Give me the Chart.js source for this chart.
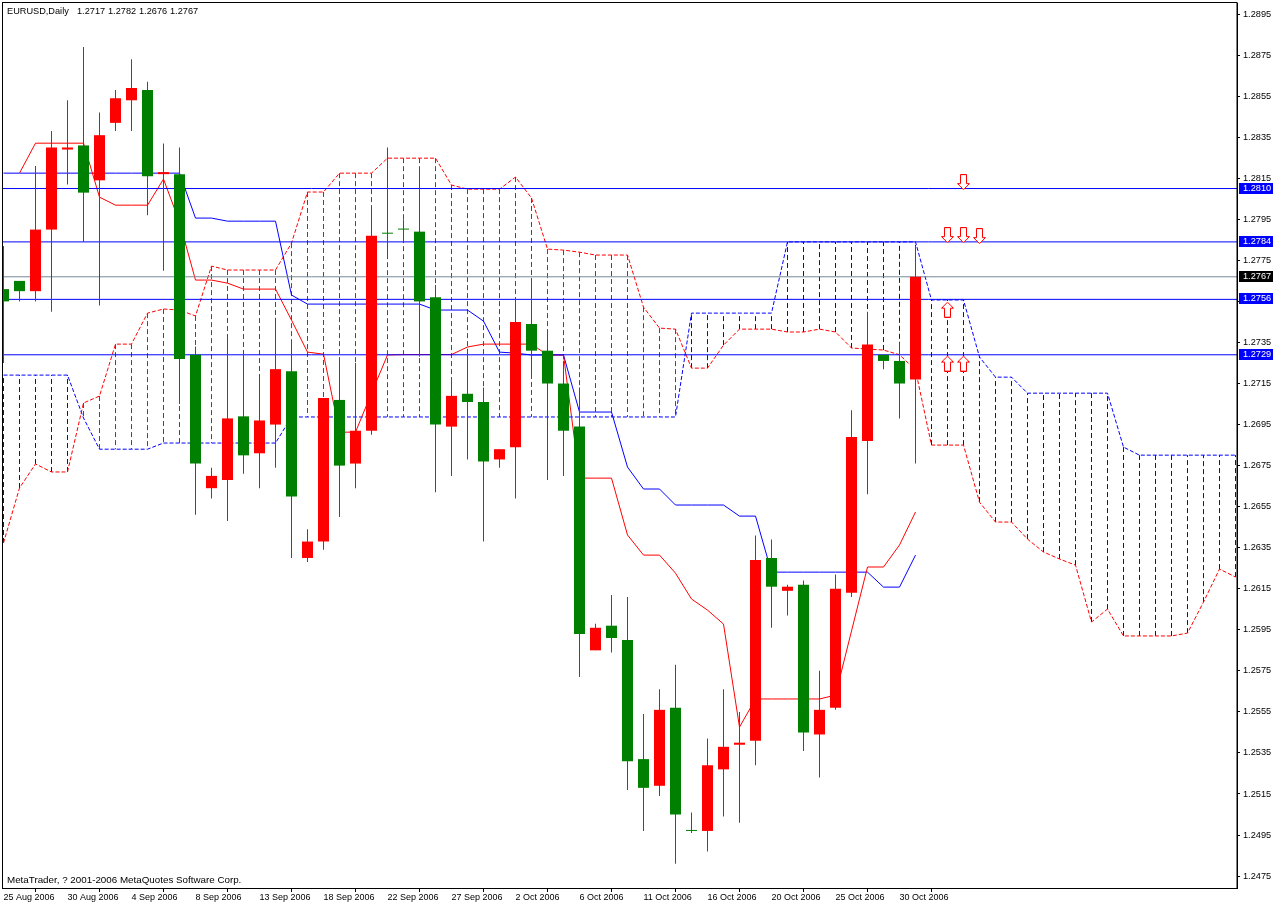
<!DOCTYPE html>
<html>
<head>
<meta charset="utf-8">
<title>EURUSD,Daily</title>
<script src="https://cdn.jsdelivr.net/npm/chart.js@4"></script>
<style>
  html, body { margin: 0; padding: 0; background: #fff; }
  canvas { display: block; }
</style>
</head>
<body>
<canvas id="chart" width="1274" height="905"></canvas>
<script>
// daily candles, one entry per bar
const opens = [1.2761,1.2765,1.2760,1.2790,1.2829,1.2831,1.2814,1.2842,1.2853,1.2858,1.2817,1.2817,1.2729,1.2664,1.2668,1.2699,1.2681,1.2695,1.2721,1.2630,1.2638,1.2707,1.2676,1.2692,1.2788,1.2790,1.2789,1.2757,1.2694,1.2710,1.2706,1.2678,1.2684,1.2744,1.2731,1.2715,1.2694,1.2585,1.2597,1.2590,1.2532,1.2519,1.2557,1.2497,1.2497,1.2527,1.2539,1.2541,1.2630,1.2614,1.2617,1.2544,1.2557,1.2613,1.2687,1.2729,1.2726,1.2717];
const highs = [1.2782,1.2765,1.2821,1.2838,1.2853,1.2879,1.2847,1.2858,1.2873,1.2862,1.2832,1.2830,1.2733,1.2674,1.2739,1.2731,1.2718,1.2747,1.2736,1.2644,1.2708,1.2727,1.2725,1.2800,1.2830,1.2795,1.2819,1.2763,1.2716,1.2732,1.2713,1.2683,1.2757,1.2765,1.2740,1.2726,1.2713,1.2598,1.2612,1.2611,1.2554,1.2566,1.2578,1.2506,1.2542,1.2566,1.2555,1.2641,1.2639,1.2617,1.2619,1.2575,1.2622,1.2702,1.2750,1.2729,1.2735,1.2782];
const lows = [1.2725,1.2755,1.2755,1.2750,1.2812,1.2784,1.2753,1.2838,1.2838,1.2797,1.2770,1.2705,1.2651,1.2659,1.2648,1.2671,1.2664,1.2674,1.2630,1.2628,1.2634,1.2650,1.2664,1.2690,1.2777,1.2784,1.2728,1.2662,1.2670,1.2678,1.2638,1.2674,1.2659,1.2719,1.2668,1.2670,1.2572,1.2585,1.2584,1.2517,1.2497,1.2514,1.2481,1.2496,1.2487,1.2504,1.2501,1.2529,1.2596,1.2602,1.2536,1.2523,1.2556,1.2611,1.2661,1.2722,1.2698,1.2676];
const closes = [1.2755,1.2760,1.2790,1.2830,1.2830,1.2808,1.2836,1.2854,1.2859,1.2816,1.2818,1.2727,1.2676,1.2670,1.2698,1.2680,1.2697,1.2722,1.2660,1.2638,1.2708,1.2675,1.2692,1.2787,1.2788,1.2790,1.2755,1.2695,1.2709,1.2706,1.2677,1.2683,1.2745,1.2731,1.2715,1.2692,1.2593,1.2596,1.2591,1.2531,1.2518,1.2556,1.2505,1.2497,1.2529,1.2538,1.2540,1.2629,1.2616,1.2616,1.2545,1.2556,1.2615,1.2689,1.2734,1.2726,1.2715,1.2767];

// ichimoku lines
const tenkan = [null,1.28175,1.28321,1.28321,1.28321,1.28321,1.28058,1.28019,1.28019,1.28019,1.28146,1.27937,1.27654,1.27654,1.27639,1.2761,1.2761,1.2761,1.27459,1.27303,1.27293,1.26913,1.26913,1.27103,1.27289,1.27291,1.27291,1.27291,1.27291,1.27328,1.27342,1.27342,1.27342,1.27342,1.27289,1.27289,1.26689,1.26689,1.26689,1.26412,1.26314,1.26314,1.26226,1.261,1.26046,1.25978,1.25476,1.25613,1.25613,1.25613,1.25613,1.25613,1.25632,1.25944,1.26256,1.26256,1.26363,1.26524];
const kijun = [1.28175,1.28175,1.28175,1.28175,1.28175,1.28175,1.28175,1.28175,1.28175,1.28175,1.28175,1.28175,1.27956,1.27956,1.27941,1.27941,1.27941,1.27941,1.27581,1.27537,1.27537,1.27537,1.27537,1.27537,1.27537,1.27537,1.27537,1.27508,1.27508,1.27508,1.27454,1.27303,1.27298,1.27289,1.27289,1.27289,1.27011,1.27011,1.27011,1.26743,1.26636,1.26636,1.26558,1.26558,1.26558,1.26558,1.26504,1.26504,1.26231,1.26231,1.26231,1.26231,1.26231,1.26231,1.26231,1.26158,1.26158,1.26314];
const senkouA = [1.26373,1.26641,1.26758,1.26719,1.26719,1.27055,1.27089,1.27342,1.27342,1.27493,1.27513,1.27508,1.27479,1.27722,1.27703,1.27703,1.27703,1.27703,1.27834,1.28083,1.28083,1.28175,1.28175,1.28175,1.28248,1.28248,1.28248,1.28248,1.28117,1.28097,1.28097,1.28097,1.28156,1.28054,1.27805,1.278,1.2779,1.27776,1.27776,1.27776,1.27522,1.2742,1.27415,1.27225,1.27225,1.27337,1.27415,1.27415,1.27415,1.27401,1.27401,1.27415,1.27401,1.27323,1.27318,1.27313,1.2729,1.27216,1.2685,1.2685,1.2685,1.26572,1.26475,1.26475,1.26392,1.26329,1.26295,1.26265,1.25988,1.26051,1.2592,1.2592,1.2592,1.2592,1.25934,1.26085,1.26246,1.26207];
const senkouB = [1.27191,1.27191,1.27191,1.27191,1.27191,1.26982,1.2683,1.2683,1.2683,1.2683,1.2686,1.2686,1.2686,1.2686,1.2686,1.2686,1.2686,1.2686,1.26987,1.26987,1.26987,1.26987,1.26987,1.26987,1.26987,1.26987,1.26987,1.26987,1.26987,1.26987,1.26987,1.26987,1.26987,1.26987,1.26987,1.26987,1.26987,1.26987,1.26987,1.26987,1.26987,1.26987,1.26987,1.27493,1.27493,1.27493,1.27493,1.27493,1.27493,1.2784,1.2784,1.2784,1.2784,1.2784,1.2784,1.2784,1.2784,1.2784,1.27557,1.27557,1.27557,1.27279,1.27181,1.27181,1.27103,1.27103,1.27103,1.27103,1.27103,1.27103,1.2684,1.26801,1.26801,1.26801,1.26801,1.26801,1.26801,1.26801];

// horizontal levels and the last price
const levels = [1.2810, 1.2784, 1.2756, 1.2729];
const lastPrice = 1.2767;

// signal arrows [bar, price]
const downArrows = [[60,1.28131],[59,1.27873],[60,1.27873],[61,1.27868]];
const upArrows = [[59,1.2751],[59,1.27247],[60,1.27247]];

const priceTicks = [1.2895,1.2875,1.2855,1.2835,1.2815,1.2795,1.2775,1.2755,1.2735,1.2715,1.2695,1.2675,1.2655,1.2635,1.2615,1.2595,1.2575,1.2555,1.2535,1.2515,1.2495,1.2475];
const dateTicks = [0,4,8,12,16,20,24,28,32,36,40,44,48,52,56];
const dateLabels = ["25 Aug 2006","30 Aug 2006","4 Sep 2006","8 Sep 2006","13 Sep 2006","18 Sep 2006","22 Sep 2006","27 Sep 2006","2 Oct 2006","6 Oct 2006","11 Oct 2006","16 Oct 2006","20 Oct 2006","25 Oct 2006","30 Oct 2006"];

const headerTexts = ["EURUSD,Daily", "1.2717", "1.2782", "1.2676", "1.2767"];
const footerText = "MetaTrader, ? 2001-2006 MetaQuotes Software Corp.";

const RED = "#ff0000", GREEN = "#008000", BLUE = "#0000ff", GRAY = "#778899";
const FAMILY = '"Liberation Sans", Arial, sans-serif';
const X_MIN = -0.03125, X_MAX = 77.09375;

const candleColor = (i) => closes[i] <= opens[i] ? GREEN : RED;

// hollow arrow, pointing up; rotated for the sell signals
function arrowImage() {
  const c = document.createElement("canvas");
  c.width = 13; c.height = 16;
  const g = c.getContext("2d");
  g.beginPath();
  g.moveTo(6.5, 0.5); g.lineTo(12.5, 6.5); g.lineTo(9.5, 6.5); g.lineTo(9.5, 15.5);
  g.lineTo(3.5, 15.5); g.lineTo(3.5, 6.5); g.lineTo(0.5, 6.5); g.closePath();
  g.fillStyle = "#fff"; g.fill();
  g.strokeStyle = RED; g.lineWidth = 1; g.stroke();
  return c;
}
const arrow = arrowImage();

function cloudBars(wantA) {
  const pts = [];
  senkouA.forEach((a, i) => {
    const b = senkouB[i];
    if ((a > b) === wantA) pts.push({ x: i, y: a }, { x: i, y: b }, { x: i, y: null });
  });
  return pts;
}

const toLine = (arr) => arr.map((v, i) => ({ x: i, y: v }));
const flat = (v) => [{ x: X_MIN, y: v }, { x: X_MAX, y: v }];

const datasets = [
  // candles sit on top of everything else
  { type: "bar", label: "body", order: 1, grouped: false, barThickness: 11, minBarLength: 1, inflateAmount: 0,
    data: opens.map((o, i) => ({ x: i, y: [Math.min(o, closes[i]), Math.max(o, closes[i])] })),
    backgroundColor: opens.map((o, i) => candleColor(i)) },
  { type: "bar", label: "wick", order: 2, grouped: false, barThickness: 1, inflateAmount: 0,
    data: lows.map((l, i) => ({ x: i, y: [l, highs[i]] })),
    backgroundColor: opens.map((o, i) => candleColor(i)) },
  { type: "line", label: "sell", order: 0, data: downArrows.map(([x, y]) => ({ x, y })), showLine: false,
    pointStyle: arrow, pointRotation: 180, pointRadius: 6 },
  { type: "line", label: "buy", order: 0, data: upArrows.map(([x, y]) => ({ x, y })), showLine: false,
    pointStyle: arrow, pointRadius: 6 },
  { type: "line", label: "tenkan", order: 4, data: toLine(tenkan), borderColor: RED, borderWidth: 1, pointRadius: 0, tension: 0 },
  { type: "line", label: "kijun", order: 4, data: toLine(kijun), borderColor: BLUE, borderWidth: 1, pointRadius: 0, tension: 0 },
  { type: "line", label: "senkouA", order: 5, data: toLine(senkouA), borderColor: RED, borderWidth: 1, borderDash: [4, 2], pointRadius: 0, tension: 0 },
  { type: "line", label: "senkouB", order: 5, data: toLine(senkouB), borderColor: BLUE, borderWidth: 1, borderDash: [4, 2], pointRadius: 0, tension: 0 },
  { type: "line", label: "cloudRed", order: 6, data: cloudBars(true), borderColor: RED, borderWidth: 1, borderDash: [5, 3], pointRadius: 0, spanGaps: false },
  { type: "line", label: "cloudBlue", order: 6, data: cloudBars(false), borderColor: BLUE, borderWidth: 1, borderDash: [5, 3], pointRadius: 0, spanGaps: false },
  ...levels.map((v) => ({ type: "line", label: "level", order: 3, data: flat(v), borderColor: BLUE, borderWidth: 1, pointRadius: 0 })),
  { type: "line", label: "last", order: 3, data: flat(lastPrice), borderColor: GRAY, borderWidth: 1, pointRadius: 0 }
];

// frame, the two corner captions and the price boxes on the right axis
const overlay = {
  id: "overlay",
  afterDraw(chart) {
    const { ctx, chartArea: a, scales } = chart;
    ctx.save();
    ctx.strokeStyle = "#000";
    ctx.lineWidth = 1;
    ctx.strokeRect(a.left - 0.5, a.top - 0.5, a.right - a.left + 0.5, a.bottom - a.top + 1);
    ctx.font = "9.2px " + FAMILY;
    ctx.textBaseline = "middle";
    ctx.fillStyle = "#000";
    [7, 77, 108, 139, 170].forEach((x, i) => ctx.fillText(headerTexts[i], x, 11));
    ctx.font = "9.8px " + FAMILY;
    ctx.fillText(footerText, 7, 880);
    ctx.font = "9.2px " + FAMILY;
    const box = (v, color) => {
      const y = scales.y.getPixelForValue(v);
      ctx.fillStyle = color;
      ctx.fillRect(1239, Math.round(y) - 6, 34, 11);
      ctx.fillStyle = "#fff";
      ctx.fillText(v.toFixed(4), 1243, Math.round(y) - 0.5);
    };
    levels.forEach((v) => box(v, BLUE));
    box(lastPrice, "#000");
    ctx.restore();
  }
};

new Chart(document.getElementById("chart"), {
  type: "bar",
  data: { datasets },
  plugins: [overlay],
  options: {
    responsive: false,
    animation: false,
    devicePixelRatio: 1,
    layout: { autoPadding: false, padding: { left: 3, top: 3, right: 0, bottom: 0 } },
    plugins: { legend: { display: false }, title: { display: false }, tooltip: { enabled: false } },
    scales: {
      x: {
        type: "linear", min: X_MIN, max: X_MAX, offset: false,
        afterFit: (s) => { s.height = 17; s.paddingLeft = 0; s.paddingRight = 0; },
        afterBuildTicks: (s) => { s.ticks = dateTicks.map((v) => ({ value: v })); },
        grid: { drawOnChartArea: false, tickLength: 4, color: "#000" },
        border: { color: "#000" },
        ticks: {
          autoSkip: false, maxRotation: 0, align: "start", padding: 0, color: "#000",
          font: { family: FAMILY, size: 9 },
          callback: (v) => dateLabels[dateTicks.indexOf(v)]
        }
      },
      y: {
        position: "right", min: 1.24692, max: 1.29004,
        afterFit: (s) => { s.width = 37; s.paddingTop = 0; s.paddingBottom = 0; },
        afterBuildTicks: (s) => { s.ticks = priceTicks.map((v) => ({ value: v })); },
        grid: { drawOnChartArea: false, tickLength: 3, color: "#000" },
        border: { color: "#000" },
        ticks: {
          padding: 3, color: "#000",
          font: { family: FAMILY, size: 9.2 },
          callback: (v) => v.toFixed(4)
        }
      }
    }
  }
});
</script>
</body>
</html>
